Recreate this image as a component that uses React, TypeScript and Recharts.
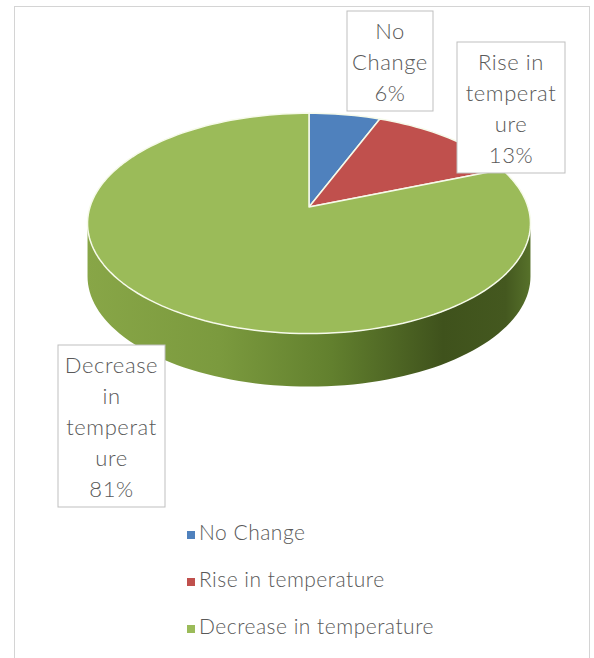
import { PieChart, Pie, Cell, Legend } from "recharts"

const CATEGORIES = ["No Change", "Rise in temperature", "Decrease in temperature"]
const SHARES = [6, 13, 81]
// data label text as wrapped in the picture
const LABEL_LINES = [
  ["No", "Change"],
  ["Rise in", "temperat", "ure"],
  ["Decrease", "in", "temperat", "ure"],
]
const COLORS = ["#4f81bd", "#c0504d", "#9bbb59"]

const data = CATEGORIES.map((name, i) => ({ name, value: SHARES[i] }))
const total = SHARES.reduce((a, b) => a + b, 0)

const CX = 309
const CY = 207
const RADIUS = 219
const TILT = 0.492 // vertical squash of the disc
const PERSP = 0.149 // far side smaller than near side
const DEPTH = 53
const FONT = "Lato, 'Open Sans', sans-serif"
const TEXT = "#595959"

// label boxes, relative to pie centre
const BOXES = [
  { dx: 38, dy: -196, w: 86 },
  { dx: 148, dy: -165, w: 108 },
  { dx: -251, dy: 138, w: 107 },
]
const LINE_H = 31

function project(cx: number, cy: number, r: number, deg: number) {
  const t = (deg * Math.PI) / 180
  const u = Math.cos(t)
  const v = Math.sin(t)
  const s = 1 / (1 + PERSP * v)
  return [cx + r * u * s, cy - r * TILT * v * s]
}

function arc(cx: number, cy: number, r: number, a0: number, a1: number, dy = 0) {
  const n = Math.max(2, Math.ceil(Math.abs(a1 - a0) / 2))
  const pts: string[] = []
  for (let i = 0; i <= n; i++) {
    const [x, y] = project(cx, cy, r, a0 + ((a1 - a0) * i) / n)
    pts.push(`${x.toFixed(2)},${(y + dy).toFixed(2)}`)
  }
  return pts
}

function Slice3D(props: any) {
  const { cx, cy, outerRadius, startAngle, endAngle, fill, index } = props
  const r = outerRadius
  const hi0 = Math.max(startAngle, endAngle)
  const lo0 = Math.min(startAngle, endAngle)
  const edge = (Math.asin(PERSP) * 180) / Math.PI
  const sides: [number, number][] = []
  for (const shift of [-360, 0, 360]) {
    const lo = Math.max(lo0, -180 + edge + shift)
    const hi = Math.min(hi0, -edge + shift)
    if (hi > lo) sides.push([hi, lo])
  }
  const gid = `side-grad-${index}`
  const top = arc(cx, cy, r, startAngle, endAngle)
  return (
    <g>
      <defs>
        <linearGradient id={gid} gradientUnits="userSpaceOnUse" x1={cx - r * 1.02} x2={cx + r * 1.02} y1={0} y2={0}>
          <stop offset="0" stopColor="#88a647" />
          <stop offset="0.3" stopColor="#7b9a3e" />
          <stop offset="0.55" stopColor="#62802e" />
          <stop offset="0.8" stopColor="#3f521c" />
          <stop offset="0.94" stopColor="#44581f" />
          <stop offset="1" stopColor="#58732b" />
        </linearGradient>
      </defs>
      {sides.map(([hi, lo], i) => {
        const upper = arc(cx, cy, r, hi, lo)
        const lower = arc(cx, cy, r, lo, hi, DEPTH)
        return (
          <path
            key={i}
            d={`M${upper.join("L")}L${lower.join("L")}Z`}
            fill={`url(#${gid})`}
            stroke="none"
          />
        )
      })}
      <path
        d={`M${cx},${cy}L${top.join("L")}Z`}
        fill={fill}
        stroke="#f6faea"
        strokeWidth={1.5}
        strokeLinejoin="round"
      />
    </g>
  )
}

function BoxLabel(props: any) {
  const { index, value } = props
  const b = BOXES[index]
  const lines = [...LABEL_LINES[index], `${Math.round((value / total) * 100)}%`]
  const h = lines.length * LINE_H + 7
  const x = CX + b.dx
  const y = CY + b.dy
  return (
    <g>
      <rect x={x} y={y} width={b.w} height={h} fill="#fff" stroke="#bfbfbf" strokeWidth={1} />
      {lines.map((t, i) => (
        <text
          key={i}
          x={x + b.w / 2}
          y={y + 19 + i * LINE_H}
          textAnchor="middle"
          dominantBaseline="central"
          fill={TEXT}
          fontSize={22}
          fontFamily={FONT}
          fontWeight={300}
          letterSpacing={0.6}
        >
          {t}
        </text>
      ))}
    </g>
  )
}

export default function App() {
  return (
    <div style={{ position: "absolute", left: 0, top: 0, width: 594, height: 658, fontFamily: FONT, overflow: "hidden" }}>
      <div
        style={{
          position: "absolute",
          left: 14,
          top: 6,
          width: 576,
          height: 670,
          border: "1px solid #d4d4d4",
          boxSizing: "border-box",
        }}
      />
      <PieChart
        width={594}
        height={658}
        margin={{ top: 0, right: 0, bottom: 0, left: 0 }}
        style={{ position: "absolute", left: 0, top: 0 }}
      >
        <Pie
          data={data}
          dataKey="value"
          nameKey="name"
          cx={CX}
          cy={CY}
          outerRadius={RADIUS}
          startAngle={90}
          endAngle={-270}
          stroke="none"
          shape={Slice3D}
          activeShape={Slice3D}
          inactiveShape={Slice3D}
          label={BoxLabel}
          labelLine={false}
          isAnimationActive={false}
        >
          {data.map((_, i) => (
            <Cell key={i} fill={COLORS[i]} />
          ))}
        </Pie>
        <Legend
          layout="vertical"
          align="center"
          verticalAlign="middle"
          iconType="square"
          iconSize={8}
          itemSorter={(item: any) => CATEGORIES.indexOf(item.value)}
          wrapperStyle={{ left: 187, top: 508, width: "auto", lineHeight: "47px", fontSize: 21, fontFamily: FONT, fontWeight: 300, letterSpacing: 0.5 }}
          formatter={(v: string) => <span style={{ color: TEXT }}>{v}</span>}
        />
      </PieChart>
    </div>
  )
}
